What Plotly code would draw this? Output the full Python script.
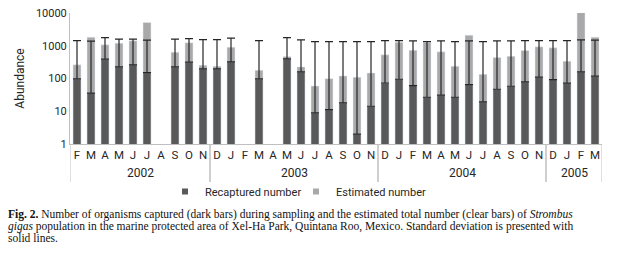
import plotly.graph_objects as go

months = ["F", "M", "A", "M", "J", "J", "A", "S", "O", "N",
          "D", "J", "F", "M", "A", "M", "J", "J", "A", "S", "O", "N",
          "D", "J", "F", "M", "A", "M", "J", "J", "A", "S", "O", "N",
          "D", "J", "F", "M"]
years = ["2002"] * 10 + ["2003"] * 12 + ["2004"] * 12 + ["2005"] * 4

recaptured = [97, 36, 389, 226, 261, 151, None, 226, 315, 197,
              197, 322, None, 97, None, 397, 159, 8.9, 11.2, 17.9, 2.0, 14.2,
              73, 95, 61, 26.8, 30.9, 26.8, 65, 19.3, 47, 58, 79, 110,
              93, 72, 159, 118]
estimated = [261, 1832, 1066, 1201, 1413, 5125, None, 637, 1227, 255,
             238, 906, None, 179, None, 467, 226, 59, 99, 120, 110, 148,
             527, 1288, 733, 1253, 651, 238, 2110, 135, 436, 481, 713, 926,
             863, 338, 10660, 1832]
std_dev = [1346, 1347, 1393, 1366, 1331, 1332, None, 1366, 1345, 1351,
           1351, 1386, None, 1346, None, 1385, 1355, 1335, 1333, 1326, 1342, 1330,
           1370, 1348, 1352, 1317, 1382, 1317, 1348, 1325, 1366, 1355, 1364, 1333,
           1350, 1371, 1355, 1365]

DARK = "#595959"
LIGHT = "#a9a9a9"
AXIS = "#bfbfbf"
TXT = "#262626"
SANS = "Roboto, Arial, sans-serif"
SERIF = "Liberation Serif, Times New Roman, serif"

idx = list(range(len(months)))

fig = go.Figure()
fig.add_trace(go.Bar(x=idx, y=estimated, name="Estimated number", marker_color=LIGHT,
                     width=0.57, showlegend=False))
fig.add_trace(go.Bar(x=idx, y=recaptured, name="Recaptured number", marker_color=DARK,
                     width=0.57, showlegend=False,
                     error_y=dict(type="data", symmetric=False, array=std_dev,
                                  arrayminus=[0 if v is not None else None for v in std_dev],
                                  color=TXT, thickness=1.2, width=4)))
# legend entries
fig.add_trace(go.Scatter(x=[None], y=[None], mode="markers", name="Recaptured number",
                         marker=dict(symbol="square", size=6, color=DARK)))
fig.add_trace(go.Scatter(x=[None], y=[None], mode="markers", name="Estimated number",
                         marker=dict(symbol="square", size=6, color=LIGHT)))

H = 131.0  # plot height px
def py(pix):
    return (144 - pix) / H

def px(pix):
    return (pix - 70) / 532.0

# year group labels and dividers
groups = []
for i, y in enumerate(years):
    if not groups or groups[-1][0] != y:
        groups.append([y, i, i])
    else:
        groups[-1][2] = i
shapes = []
annotations = []
for y, a, b in groups:
    annotations.append(dict(x=(a + b) / 2, y=py(173), xref="x", yref="paper", text=y,
                            showarrow=False, font=dict(family=SANS, size=12, color=TXT),
                            yanchor="middle"))
    for edge in (a - 0.5, b + 0.5):
        shapes.append(dict(type="line", xref="x", yref="paper", x0=edge, x1=edge,
                           y0=0, y1=py(182), line=dict(color=AXIS, width=1)))

caption = [
    "<b>Fig. 2.</b> Number of organisms captured (dark bars) during sampling and the estimated total number (clear bars) of <i>Strombus</i>",
    "<i>gigas</i> population in the marine protected area of Xel-Ha Park, Quintana Roo, Mexico. Standard deviation is presented with",
    "solid lines.",
]
for line, yy in zip(caption, (214, 226, 238)):
    annotations.append(dict(x=px(6), y=py(yy), xref="paper", yref="paper", text=line,
                            showarrow=False, xanchor="left", yanchor="middle",
                            font=dict(family=SERIF, size=11.5, color="#111111")))

fig.update_layout(
    width=618, height=255,
    margin=dict(l=70, r=16, t=13, b=111, autoexpand=False),
    paper_bgcolor="white", plot_bgcolor="white",
    barmode="overlay",
    font=dict(family=SANS, size=11, color=TXT),
    xaxis=dict(range=[-0.5, 37.5], tickmode="array", tickvals=idx, ticktext=months,
               showline=True, linecolor=AXIS, linewidth=1, showgrid=False, zeroline=False,
               ticks="", automargin=False, tickfont=dict(family=SANS, size=11.5, color=TXT)),
    yaxis=dict(type="log", range=[0, 4], tickmode="array",
               tickvals=[1, 10, 100, 1000, 10000],
               ticktext=["1", "10", "100", "1000", "10000"],
               showline=True, linecolor=AXIS, linewidth=1, showgrid=False, zeroline=False,
               ticks="", automargin=False, tickfont=dict(family=SANS, size=11, color=TXT),
               title=dict(text="Abundance", font=dict(family=SANS, size=12, color=TXT), standoff=8)),
    legend=dict(orientation="h", x=px(165), y=py(177), xanchor="left", yanchor="top",
                font=dict(family=SANS, size=11, color=TXT), itemwidth=30,
                entrywidth=86, entrywidthmode="pixels",
                tracegroupgap=0, bgcolor="rgba(0,0,0,0)"),
    shapes=shapes,
    annotations=annotations,
)

fig.write_html("out.html", config={"displayModeBar": False},
               post_script="document.body.style.margin='0';document.body.style.padding='0';")
